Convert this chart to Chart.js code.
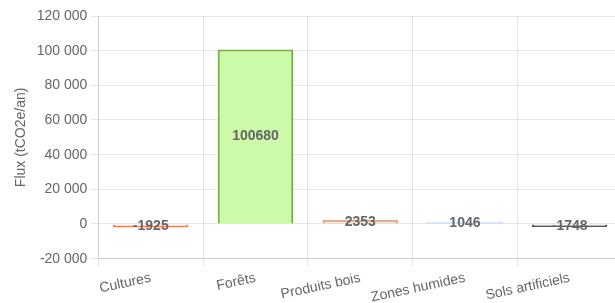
<!DOCTYPE html>
<html>
<head>
<meta charset="utf-8">
<script src="https://cdn.jsdelivr.net/npm/chart.js@4/dist/chart.umd.min.js"></script>
<style>
  html, body { margin: 0; padding: 0; overflow: hidden; background: #fff; }
  #wrap { width: 622px; height: 309px; }
</style>
</head>
<body>
<div id="wrap"><canvas id="fluxChart"></canvas></div>
<script>
const categories = ["Cultures", "Forêts", "Produits bois", "Zones humides", "Sols artificiels"];
const fluxValues = [-1925, 100680, 2353, 1046, -1748];
const fillColors = ["rgba(240,120,80,0.25)", "#ccf9aa", "rgba(216,168,136,0.3)", "rgba(160,192,232,0.3)", "rgba(85,85,85,0.25)"];
const borderColors = ["#f07850", "#70b040", "#d8a888", "#a0c0e8", "#555555"];

Chart.defaults.font.family = "'Liberation Sans', Arial, sans-serif";
Chart.defaults.color = "#666";

const valueLabels = {
  id: "valueLabels",
  afterDatasetsDraw(chart) {
    const c = chart.ctx;
    const meta = chart.getDatasetMeta(0);
    c.save();
    c.font = "bold 14px 'Liberation Sans', Arial, sans-serif";
    c.fillStyle = "#666";
    c.textAlign = "center";
    c.textBaseline = "middle";
    meta.data.forEach((bar, i) => {
      const p = bar.getCenterPoint();
      c.fillText(String(fluxValues[i]), p.x, p.y);
    });
    c.restore();
  },
};

function spaced(v) {
  return String(v).replace(/\B(?=(\d{3})+(?!\d))/g, " ");
}

const ctx = document.getElementById("fluxChart").getContext("2d");

const chart = new Chart(ctx, {
  type: "bar",
  data: {
    labels: categories,
    datasets: [
      {
        data: fluxValues,
        backgroundColor: fillColors,
        borderColor: borderColors,
        borderWidth: 2,
      },
    ],
  },
  options: {
    responsive: true,
    maintainAspectRatio: false,
    animation: false,
    layout: { padding: { left: 9, top: 16 } },
    plugins: {
      legend: { display: false },
      tooltip: { enabled: false },
    },
    scales: {
      x: {
        ticks: { font: { size: 14 }, maxRotation: 12, minRotation: 12 },
      },
      y: {
        min: -20000,
        max: 120000,
        ticks: { stepSize: 20000, font: { size: 14 }, callback: (v) => spaced(v) },
        title: { display: true, text: "Flux (tCO2e/an)", font: { size: 14 } },
      },
    },
  },
  plugins: [valueLabels],
});
</script>
</body>
</html>
